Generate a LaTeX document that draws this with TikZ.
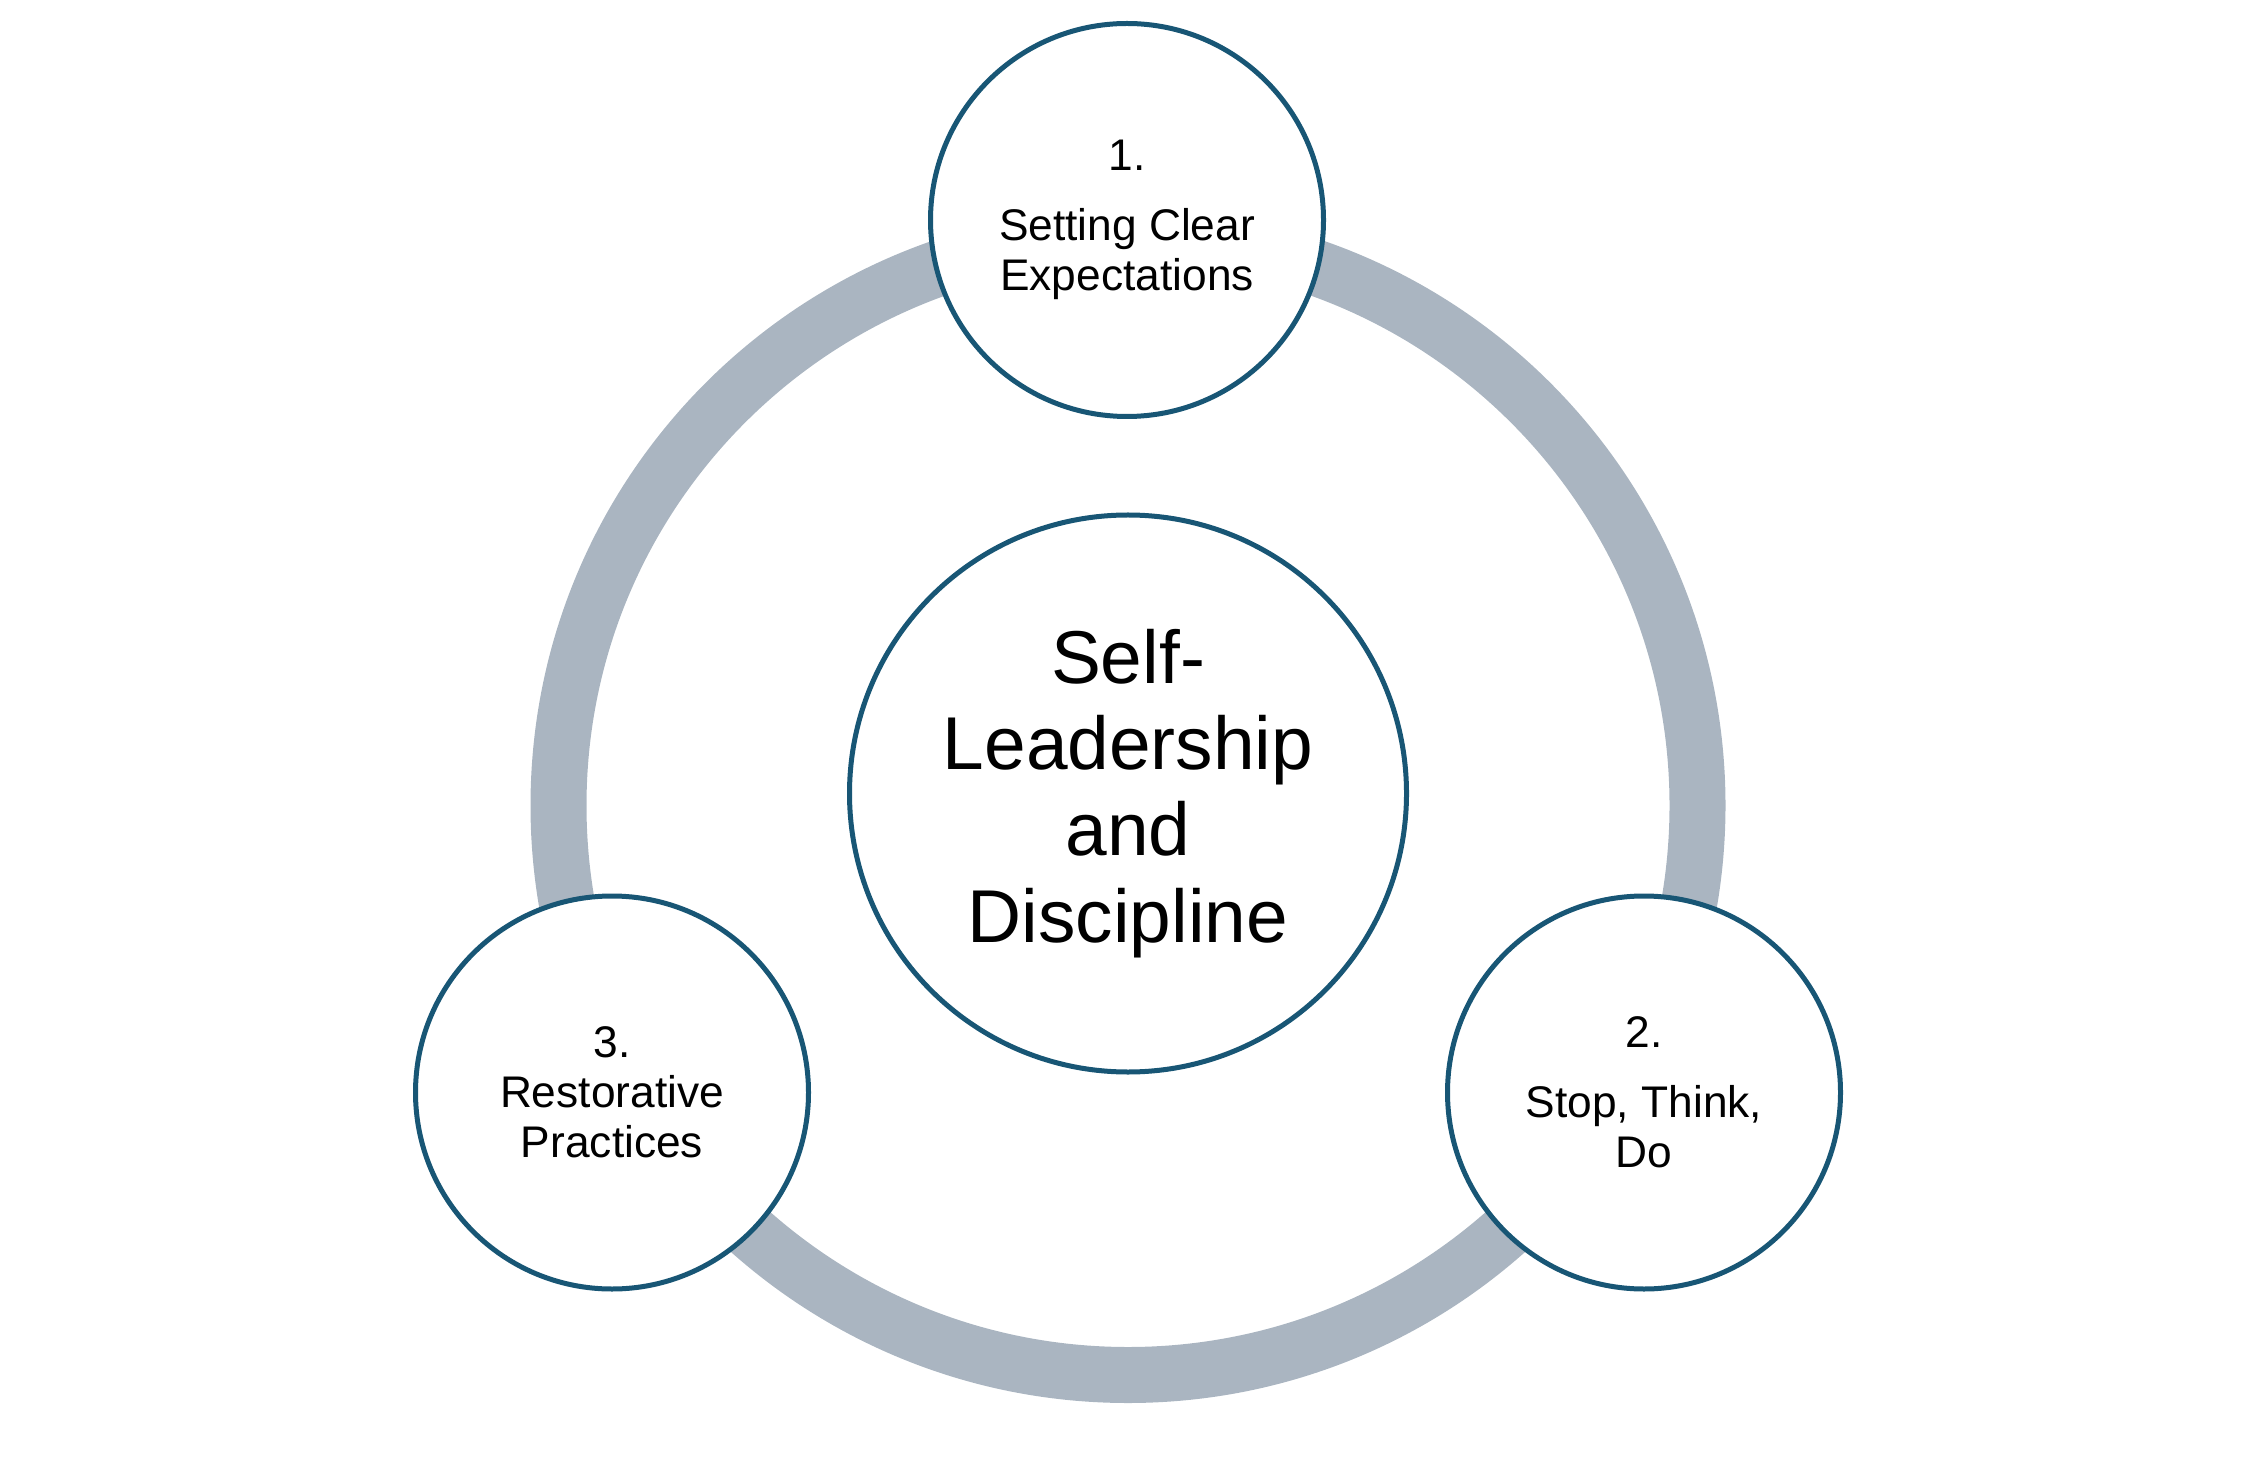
\documentclass[tikz,border=0pt]{standalone}
\usepackage{fontspec}
\setmainfont{Liberation Sans}
\usepackage{tikz}
\definecolor{ringgrey}{RGB}{170,181,193}
\definecolor{rimblue}{RGB}{24,86,117}

\begin{document}
\begin{tikzpicture}[semithick]
	\tikzstyle{every node}=[text=black,align=center]
	\tikzstyle{stage}=[circle,draw=rimblue,fill=white,line width=0.05cm,minimum size=3.93cm,inner sep=0pt,font=\fontsize{12.6pt}{14.2pt}\selectfont]
	\tikzstyle{hub}=[stage,minimum size=5.57cm,font=\fontsize{21.3pt}{24.5pt}\selectfont]
	\useasboundingbox (0,0) rectangle (22.55,14.83);
	\coordinate (mid) at (11.28,6.775);
	\draw [ringgrey,line width=0.56cm] (mid) circle (5.695cm);
	\node [hub] (core) at (11.28,6.895) {Self-\\Leadership\\and\\Discipline};
	\node [stage] (s1) at (11.27,12.63) {1.\\[0.2cm]Setting Clear\\Expectations};
	\node [stage] (s2) at (16.44,3.905) {2.\\[0.2cm]Stop, Think,\\Do};
	\node [stage] (s3) at (6.12,3.905) {3.\\Restorative\\Practices};
\end{tikzpicture}
\end{document}
